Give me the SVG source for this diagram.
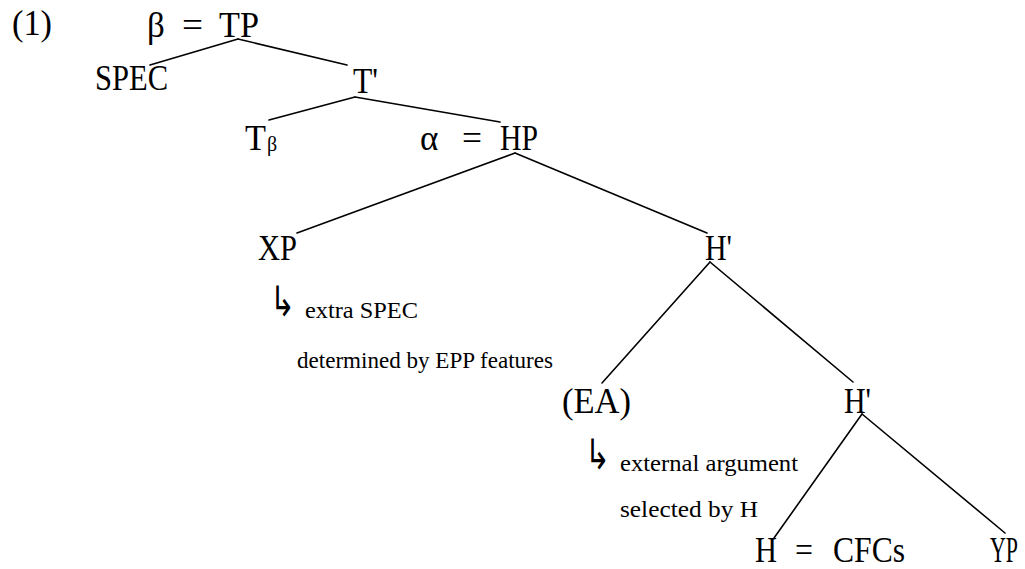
<svg xmlns="http://www.w3.org/2000/svg" width="1025" height="569" viewBox="0 0 1025 569">
<style>
.b{font-family:'Liberation Serif','Times New Roman',serif;font-size:35px;fill:#000}
.s{font-family:'Liberation Serif','Times New Roman',serif;font-size:24px;fill:#000}
.ar{font-family:'Noto Sans CJK KR','DejaVu Sans',sans-serif;font-size:30px;font-weight:300;fill:#000}
.e{stroke:#000;stroke-width:1.6;fill:none;stroke-linecap:round}
</style>
<rect width="1025" height="569" fill="#fff"/>
<g id="connectors">
<line class="e" x1="238" y1="39" x2="150" y2="65"/>
<line class="e" x1="238" y1="39" x2="347" y2="65"/>
<line class="e" x1="355" y1="97" x2="269" y2="120"/>
<line class="e" x1="355" y1="97" x2="500" y2="122"/>
<line class="e" x1="515" y1="153" x2="297" y2="233"/>
<line class="e" x1="515" y1="153" x2="707" y2="233"/>
<line class="e" x1="710" y1="262" x2="602" y2="383"/>
<line class="e" x1="710" y1="262" x2="853" y2="382"/>
<line class="e" x1="862" y1="414" x2="774" y2="538"/>
<line class="e" x1="862" y1="414" x2="1005" y2="533"/>
</g>
<g id="label-1"><text class="b" x="12" y="35" textLength="40" lengthAdjust="spacingAndGlyphs">(1)</text></g>
<g id="node-TP">
<text class="b" x="147" y="37">β</text>
<text class="b" x="182" y="37" textLength="21" lengthAdjust="spacingAndGlyphs">=</text>
<text class="b" x="219" y="37" textLength="40" lengthAdjust="spacingAndGlyphs">TP</text>
</g>
<g id="node-SPEC"><text class="b" x="95" y="90" textLength="73" lengthAdjust="spacingAndGlyphs">SPEC</text></g>
<g id="node-Tbar"><text class="b" x="353" y="93" textLength="25" lengthAdjust="spacingAndGlyphs">T'</text></g>
<g id="node-Tbeta">
<text class="b" x="245" y="150" textLength="21" lengthAdjust="spacingAndGlyphs">T</text>
<text class="b" x="267" y="151" style="font-size:20px">β</text>
</g>
<g id="node-HP">
<text class="b" x="420" y="150">α</text>
<text class="b" x="462" y="150" textLength="20" lengthAdjust="spacingAndGlyphs">=</text>
<text class="b" x="500" y="150" textLength="38" lengthAdjust="spacingAndGlyphs">HP</text>
</g>
<g id="node-XP"><text class="b" x="258" y="260" textLength="39" lengthAdjust="spacingAndGlyphs">XP</text></g>
<g id="node-Hbar1"><text class="b" x="705" y="260" textLength="27" lengthAdjust="spacingAndGlyphs">H'</text></g>
<g id="note-XP">
<text class="ar" transform="translate(270,316) scale(1,1.4)">↳</text>
<text class="s" x="305" y="318" textLength="113" lengthAdjust="spacingAndGlyphs">extra SPEC</text>
<text class="s" x="297" y="368" textLength="256" lengthAdjust="spacingAndGlyphs">determined by EPP features</text>
</g>
<g id="node-EA"><text class="b" x="562" y="413" textLength="69" lengthAdjust="spacingAndGlyphs">(EA)</text></g>
<g id="node-Hbar2"><text class="b" x="844" y="413" textLength="27" lengthAdjust="spacingAndGlyphs">H'</text></g>
<g id="note-EA">
<text class="ar" transform="translate(585,469) scale(1,1.4)">↳</text>
<text class="s" x="620" y="471" textLength="178" lengthAdjust="spacingAndGlyphs">external argument</text>
<text class="s" x="620" y="517" textLength="138" lengthAdjust="spacingAndGlyphs">selected by H</text>
</g>
<g id="node-H">
<text class="b" x="755" y="562" textLength="22" lengthAdjust="spacingAndGlyphs">H</text>
<text class="b" x="795" y="562" textLength="18" lengthAdjust="spacingAndGlyphs">=</text>
<text class="b" x="833" y="562" textLength="72" lengthAdjust="spacingAndGlyphs">CFCs</text>
</g>
<g id="node-YP"><text class="b" x="990" y="562" textLength="28" lengthAdjust="spacingAndGlyphs">YP</text></g>
</svg>
